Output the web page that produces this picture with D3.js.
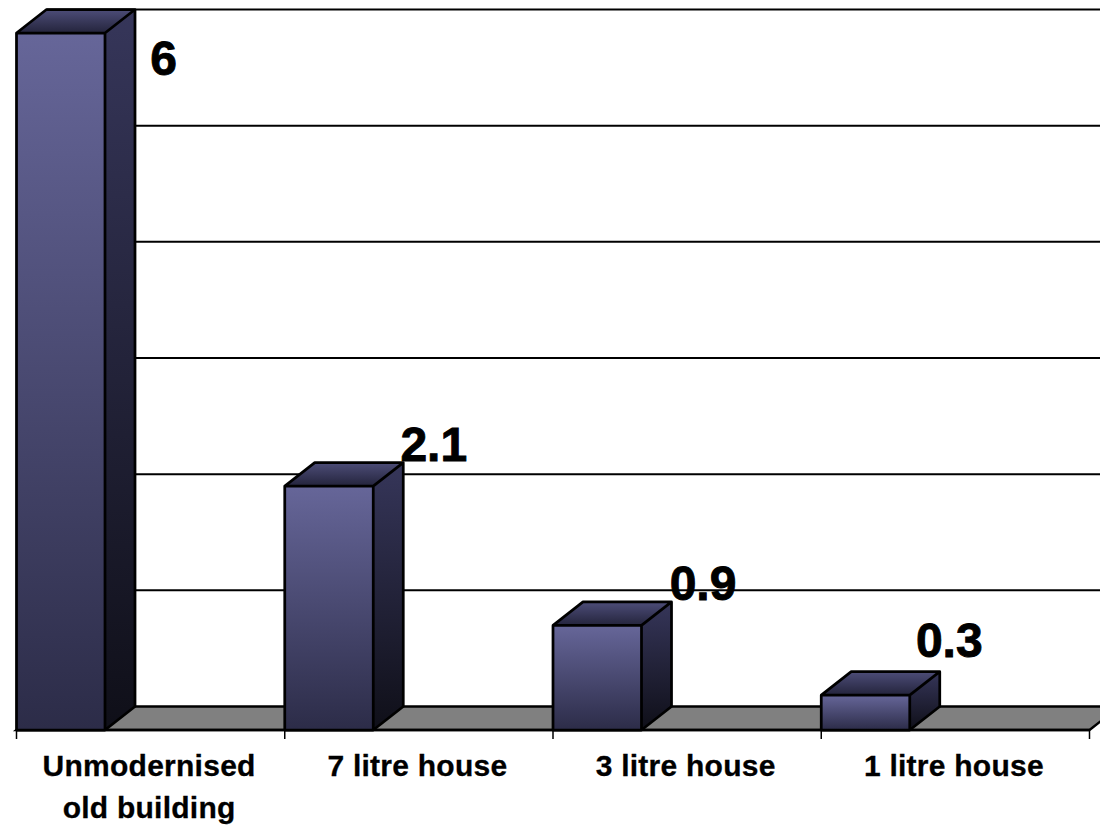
<!DOCTYPE html>
<html>
<head>
<meta charset="utf-8">
<script src="https://d3js.org/d3.v7.min.js"></script>
<style>
html, body { margin: 0; padding: 0; background: #fff; }
svg { display: block; }
text { font-family: "Liberation Sans", Arial, sans-serif; font-weight: bold; fill: #000; }
</style>
</head>
<body>
<div id="chart"></div>
<script>
// chart data
var categories = ["Unmodernised|old building", "7 litre house", "3 litre house", "1 litre house"];
var values = [6, 2.1, 0.9, 0.3];
var valueLabels = ["6", "2.1", "0.9", "0.3"];
var gridTicks = [0, 1, 2, 3, 4, 5, 6];

var width = 1100, height = 825;
var baseY = 730, topY = 33, leftX = 16.5, rightX = 1089.5;
var depthX = 30, depthY = 23.5;
var barW = 88.5;

// hand placed data labels: centre x from band start, baseline y
var labelDx = [147, 149, 150, 128];
var labelBase = [75, 461, 600, 657];

var svg = d3.select("#chart").append("svg")
	.attr("width", width)
	.attr("height", height);

var x = d3.scaleBand().domain(categories).range([leftX, rightX]);
var y = d3.scaleLinear().domain([0, 6]).range([baseY, topY]);

function addGradient(id, top, bottom)
{
	var g = svg.append("defs").append("linearGradient")
		.attr("id", id)
		.attr("x1", 0).attr("y1", 0)
		.attr("x2", 0).attr("y2", 1);
	g.append("stop").attr("offset", "0%").attr("stop-color", top);
	g.append("stop").attr("offset", "100%").attr("stop-color", bottom);
}
addGradient("frontGrad", "#666699", "#2c2c48");
addGradient("sideGrad", "#36365a", "#0f0f18");
addGradient("topGrad", "#4d4d78", "#24243c");

// back wall gridlines
svg.append("g").selectAll("line")
	.data(gridTicks.slice(1))
	.join("line")
	.attr("x1", leftX + depthX)
	.attr("x2", width + 20)
	.attr("y1", function(d) { return y(d) - depthY; })
	.attr("y2", function(d) { return y(d) - depthY; })
	.attr("stroke", "#000")
	.attr("stroke-width", 2);

// floor
var floorPts = [[leftX, baseY], [leftX + depthX, baseY - depthY], [rightX + depthX, baseY - depthY], [rightX, baseY]];
svg.append("polygon")
	.attr("points", floorPts.join(" "))
	.attr("fill", "#808080")
	.attr("stroke", "#000")
	.attr("stroke-width", 2.5);

// axis ticks
var tickXs = categories.map(function(c) { return x(c); }).concat([rightX]);
svg.append("line")
	.attr("x1", leftX).attr("x2", rightX)
	.attr("y1", baseY).attr("y2", baseY)
	.attr("stroke", "#000").attr("stroke-width", 2.5);
svg.append("g").selectAll("line")
	.data(tickXs)
	.join("line")
	.attr("x1", function(d) { return d; })
	.attr("x2", function(d) { return d; })
	.attr("y1", baseY)
	.attr("y2", baseY + 9)
	.attr("stroke", "#000")
	.attr("stroke-width", 1.5);

// bars
var bars = svg.append("g").selectAll("g")
	.data(values)
	.join("g");

bars.append("polygon")
	.attr("points", function(d, i) {
		var x0 = x(categories[i]) + barW, t = y(d);
		return [[x0, baseY], [x0 + depthX, baseY - depthY], [x0 + depthX, t - depthY], [x0, t]].join(" ");
	})
	.attr("fill", "url(#sideGrad)");

bars.append("polygon")
	.attr("points", function(d, i) {
		var x0 = x(categories[i]), t = y(d);
		return [[x0, t], [x0 + depthX, t - depthY], [x0 + barW + depthX, t - depthY], [x0 + barW, t]].join(" ");
	})
	.attr("fill", "url(#topGrad)");

bars.append("rect")
	.attr("x", function(d, i) { return x(categories[i]); })
	.attr("y", function(d) { return y(d); })
	.attr("width", barW)
	.attr("height", function(d) { return baseY - y(d); })
	.attr("fill", "url(#frontGrad)");

// bar outlines on top of the faces
bars.append("path")
	.attr("d", function(d, i) {
		var x0 = x(categories[i]), t = y(d);
		var x1 = x0 + barW;
		return "M" + x0 + "," + baseY + "V" + t + "H" + x1 + "V" + baseY + "Z"
			+ "M" + x0 + "," + t + "L" + (x0 + depthX) + "," + (t - depthY)
			+ "H" + (x1 + depthX) + "V" + (baseY - depthY) + "L" + x1 + "," + baseY
			+ "M" + x1 + "," + t + "L" + (x1 + depthX) + "," + (t - depthY);
	})
	.attr("fill", "none")
	.attr("stroke", "#000")
	.attr("stroke-width", 2.75)
	.attr("stroke-linejoin", "round");

// value labels
svg.append("g").selectAll("text")
	.data(valueLabels)
	.join("text")
	.attr("x", function(d, i) { return x(categories[i]) + labelDx[i]; })
	.attr("y", function(d, i) { return labelBase[i]; })
	.attr("text-anchor", "middle")
	.attr("font-size", 48)
	.attr("stroke", "#000")
	.attr("stroke-width", 0.9)
	.text(function(d) { return d; });

// category labels
var catText = svg.append("g").selectAll("text")
	.data(categories)
	.join("text")
	.attr("x", function(d) { return x(d) + x.bandwidth() / 2 - 1.5; })
	.attr("y", 776)
	.attr("text-anchor", "middle")
	.attr("font-size", 30)
	.attr("letter-spacing", 0.25)
	.attr("stroke", "#000")
	.attr("stroke-width", 0.3);

catText.selectAll("tspan")
	.data(function(d) {
		var cx = x(d) + x.bandwidth() / 2 - 1.5;
		return d.split("|").map(function(s) { return { line: s, cx: cx }; });
	})
	.join("tspan")
	.attr("x", function(d) { return d.cx; })
	.attr("dy", function(d, i) { return i == 0 ? 0 : 42; })
	.text(function(d) { return d.line; });
</script>
</body>
</html>
